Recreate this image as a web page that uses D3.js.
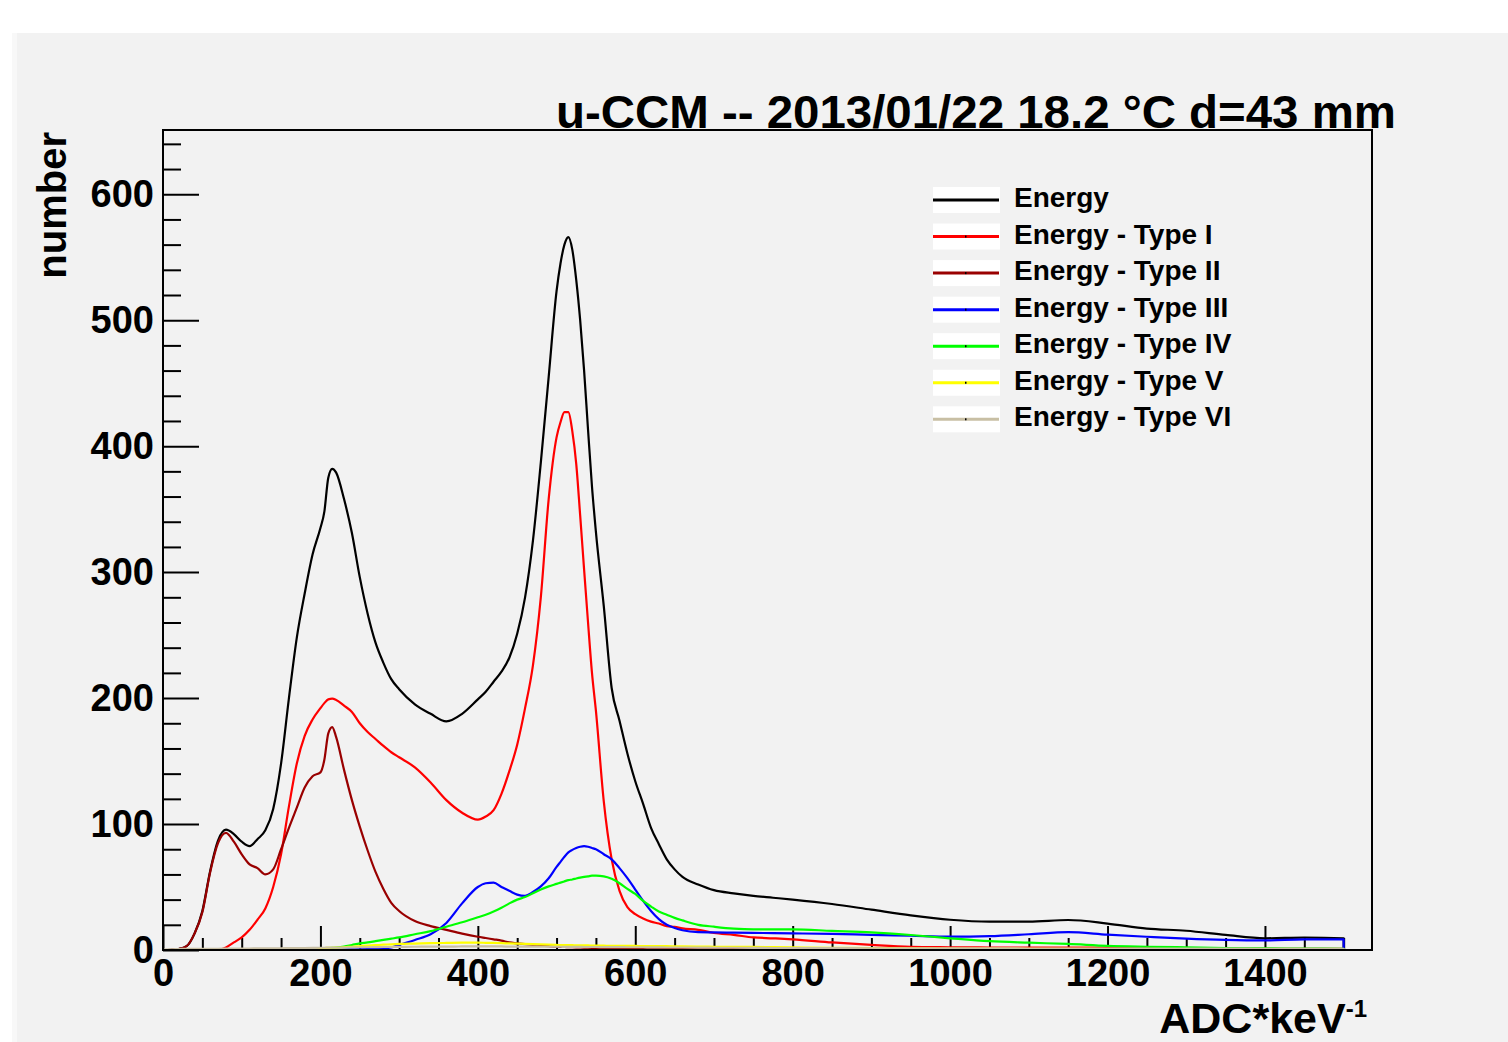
<!DOCTYPE html>
<html>
<head>
<meta charset="utf-8">
<script src="https://cdn.jsdelivr.net/npm/d3@7"></script>
<style>
  body { margin: 0; background: #fff; }
  text { font-family: "Liberation Sans", Arial, Helvetica, sans-serif; font-weight: bold; fill: #000; }
</style>
</head>
<body>
<div id="chart"></div>
<script>
// ADC channel (bin centres)
const adc = [0,10,20,30,40,50,60,70,80,90,
  100,110,120,130,140,150,160,170,180,190,
  200,205,210,215,220,230,240,250,260,270,
  280,290,300,320,340,360,380,400,410,420,
  430,440,450,460,470,480,490,500,505,510,
  515,520,525,530,535,540,545,550,560,570,
  580,590,600,610,620,630,640,650,660,680,
  700,725,750,775,800,850,900,950,1000,1050,
  1100,1150,1200,1250,1300,1350,1400,1450,1500];

const energyAll = [0,0.2,0.8,3,13,31,63,87,95.5,92,
  86,82.5,88,95,112,148,200,248,283,314,
  335,348,375,382,379,358,331,296,267,244,
  228,215,207,195,187.5,181.5,187.5,199,205,213,
  221,232,251,280,325,387,455,523,545,560,
  566,556,532,500,460,413,368,332,273,208,
  182,156,134,116,97,84,72,64,58,52,
  47.5,45,43,41.5,40,36.5,32,27.5,24,22.5,
  22.5,23.8,21,17,15.3,12,9.3,9.8,9.3];

const energyType1 = [0,0,0,0,0,0,0,0,2,6,
  10,16,24,33,50,76,114,148,170,183,
  192,196,199,199.5,198.5,194,189,180,173,167.5,
  162,157,153,145,133,119,109,103.5,106,111,
  124,142,163,192,226,280,358,407,419,427,
  427,412,386,345,302,260,220,190,118,72,
  47,34,28.5,25,22.5,21,19,18.3,17.2,16,
  13.5,12,10,9.3,8.5,6,4,2.5,2.2,2,
  2,2,1.8,1.5,1.3,1.1,1,1,1];

const energyType2 = [0,0.2,0.8,3,13,30,62,85,93,86,
  76,68,65,60,64,80,97,113,129,138,
  141,151,172,177,169,143,119,98,79,62,
  48.5,37.5,31,23,19,16,13,10.5,9.5,8.5,
  7.5,6,5.3,4.6,4,3.5,3,2.6,2.5,2.4,
  2.3,2.2,2.1,2,1.9,1.8,1.7,1.6,1.5,1.4,
  1.3,1.2,1.1,1,1,1,1,1,0.9,0.9,
  0.8,0.8,0.8,0.7,0.7,0.6,0.6,0.5,0.5,0.5,
  0.5,0.4,0.4,0.4,0.3,0.3,0.3,0.3,0.3];

const energyType3 = [0,0,0,0,0,0,0,0,0,0,
  0,0,0,0,0,0,0,0,0,0.1,
  0.2,0.2,0.3,0.3,0.3,0.4,0.5,0.6,0.7,0.9,
  1.2,2,4,8,12.5,21.5,37,50,53,53.5,
  50,47,44,43,46,50.5,57,66,70,74,
  77.5,79.5,81,82,82.5,82,81,80,76,72,
  65,57,48,39,31,24.5,20,17.5,15.7,14.2,
  14,13.8,13.6,13.4,13.2,12.8,12,11.3,10.6,11,
  12.5,14.2,12.2,10.5,9,8,7.6,8.5,8.5];

const energyType4 = [0,0,0,0,0,0,0,0,0,0,
  0,0,0.1,0.2,0.3,0.4,0.5,0.7,0.8,1,
  1.2,1.3,1.5,1.7,2,2.8,4,5.2,6,7,
  8,9,10,12.5,15,18.5,22,26,28,30.5,
  33.5,37,40,42,45,48,50.5,52.5,53.5,54.5,
  55.5,56,56.8,57.5,58,58.5,59,59,58.5,56.5,
  53,48.5,44.5,39,34.5,30.5,28,25.5,23.5,20,
  18.5,17,16.4,16.4,16.4,15.2,14,11.9,9.3,7,
  5.8,4.8,3.3,2.6,2.1,1.5,1.3,1.1,1];

const energyType5 = [0,0,0,0,0,0,0,0,0,0,
  0,0.1,0.2,0.3,0.4,0.5,0.7,0.9,1.1,1.3,
  1.5,1.6,1.7,1.8,1.9,2.2,2.6,3,3.4,3.8,
  4.2,4.5,4.8,5.1,5.4,5.6,5.8,5.8,5.7,5.6,
  5.4,5.2,5,4.8,4.6,4.4,4.2,4,3.9,3.9,
  3.8,3.8,3.7,3.7,3.6,3.6,3.5,3.5,3.4,3.3,
  3.3,3.2,3.2,3.1,3.1,3,3,2.9,2.8,2.7,
  2.6,2.6,2.5,2.3,2.1,1.8,1.6,1.4,1.2,1.1,
  1,0.9,0.8,0.8,0.7,0.7,0.6,0.6,0.6];

const energyType6 = [0.3,0.6,0.8,1,1,1,1,1,1.1,1.1,
  1.2,1.2,1.3,1.3,1.4,1.4,1.5,1.5,1.6,1.7,
  1.8,1.8,1.9,1.9,1.9,2,2.1,2.2,2.2,2.3,
  2.4,2.4,2.5,2.6,2.7,2.7,2.8,2.8,2.8,2.8,
  2.8,2.7,2.7,2.7,2.7,2.6,2.6,2.6,2.6,2.5,
  2.5,2.5,2.5,2.5,2.4,2.4,2.4,2.4,2.3,2.3,
  2.3,2.2,2.2,2.2,2.1,2.1,2,2,2,1.9,
  1.8,1.8,1.7,1.6,1.5,1.5,1.4,1.4,1.3,1.3,
  1.2,1.2,1.2,1.1,1.1,1.1,1,1,1];

const seriesNames = ["Energy", "Energy - Type I", "Energy - Type II", "Energy - Type III",
  "Energy - Type IV", "Energy - Type V", "Energy - Type VI"];
const seriesColors = ["#000000", "#ff0000", "#990000", "#0000ff", "#00ff00", "#ffff00", "#c8bfa4"];
const seriesValues = [energyAll, energyType1, energyType2, energyType3, energyType4, energyType5, energyType6];

const xTicks = d3.range(0, 1401, 200);
const yTicks = d3.range(0, 601, 100);

const width = 1508, height = 1042;
const frame = {left: 163, top: 130, right: 1372, bottom: 950};

const svg = d3.select("#chart")
  .append("svg")
  .attr("width", width)
  .attr("height", height);

// canvas pad
svg.append("rect").attr("x", 12).attr("y", 33).attr("width", 6).attr("height", height - 33).attr("fill", "#f8f8f8");
svg.append("rect").attr("x", 17).attr("y", 33).attr("width", width - 17).attr("height", height - 33).attr("fill", "#f2f2f2");

const x = d3.scaleLinear().domain([0, 1536]).range([frame.left, frame.right]);
const y = d3.scaleLinear().domain([0, 651]).range([frame.bottom, frame.top]);

// y ticks (inside the frame)
svg.append("g")
  .attr("transform", "translate(" + frame.left + ",0)")
  .call(d3.axisRight(y).tickValues(d3.range(0, 641, 20).filter(v => v % 100 !== 0)).tickSize(18).tickFormat(""))
  .call(g => g.select(".domain").remove())
  .selectAll("line").attr("stroke", "#000").attr("stroke-width", 2);
svg.append("g")
  .attr("transform", "translate(" + frame.left + ",0)")
  .call(d3.axisRight(y).tickValues(yTicks).tickSize(36).tickFormat(""))
  .call(g => g.select(".domain").remove())
  .selectAll("line").attr("stroke", "#000").attr("stroke-width", 2);

// y labels
svg.append("g")
  .attr("transform", "translate(" + frame.left + ",0)")
  .call(d3.axisLeft(y).tickValues(yTicks).tickSize(0).tickPadding(9).tickFormat(d3.format("d")))
  .call(g => g.select(".domain").remove())
  .selectAll("text").style("font-size", "38px").style("font-family", "'Liberation Sans', Arial, sans-serif").style("font-weight", "bold");

// x ticks (pointing up)
svg.append("g")
  .attr("transform", "translate(0," + frame.bottom + ")")
  .call(d3.axisTop(x).tickValues(d3.range(0, 1501, 50).filter(v => v % 200 !== 0)).tickSize(12).tickFormat(""))
  .call(g => g.select(".domain").remove())
  .selectAll("line").attr("stroke", "#000").attr("stroke-width", 2);
svg.append("g")
  .attr("transform", "translate(0," + frame.bottom + ")")
  .call(d3.axisTop(x).tickValues(xTicks).tickSize(24).tickFormat(""))
  .call(g => g.select(".domain").remove())
  .selectAll("line").attr("stroke", "#000").attr("stroke-width", 2);

// x labels
svg.append("g")
  .attr("transform", "translate(0," + frame.bottom + ")")
  .call(d3.axisBottom(x).tickValues(xTicks).tickSize(0).tickPadding(9).tickFormat(d3.format("d")))
  .call(g => g.select(".domain").remove())
  .selectAll("text").style("font-size", "38px").style("font-family", "'Liberation Sans', Arial, sans-serif").style("font-weight", "bold");

// histograms
const line = d3.line()
  .x(d => x(d[0]))
  .y(d => y(d[1]))
  .curve(d3.curveMonotoneX);

seriesValues.forEach((vals, i) => {
  const pts = adc.map((a, k) => [a, vals[k]]);
  pts.push([adc[adc.length - 1], 0]);
  svg.append("path")
    .datum(pts)
    .attr("fill", "none")
    .attr("stroke", seriesColors[i])
    .attr("stroke-width", 2.2)
    .attr("stroke-linejoin", "round")
    .attr("d", line);
});

// frame
svg.append("rect")
  .attr("x", frame.left).attr("y", frame.top)
  .attr("width", frame.right - frame.left).attr("height", frame.bottom - frame.top)
  .attr("fill", "none").attr("stroke", "#000").attr("stroke-width", 2);

// title
svg.append("text")
  .attr("x", 556).attr("y", 128)
  .attr("textLength", 840).attr("lengthAdjust", "spacingAndGlyphs")
  .style("font-size", "46px")
  .text("u-CCM -- 2013/01/22 18.2 °C d=43 mm");

// axis titles
svg.append("text")
  .attr("transform", "translate(66,132) rotate(-90)")
  .attr("text-anchor", "end")
  .style("font-size", "40px")
  .text("number");

const xt = svg.append("text")
  .attr("x", 1367).attr("y", 1033)
  .attr("text-anchor", "end")
  .style("font-size", "43px");
xt.append("tspan").text("ADC*keV");
xt.append("tspan").attr("dy", -16).style("font-size", "24px").text("-1");

// legend
const legend = svg.append("g");
seriesNames.forEach((name, i) => {
  const ly = 200 + i * 36.55;
  legend.append("rect").attr("x", 933).attr("y", ly - 13).attr("width", 67).attr("height", 26).attr("fill", "#fff");
  legend.append("line").attr("x1", 933).attr("x2", 999).attr("y1", ly).attr("y2", ly)
    .attr("stroke", seriesColors[i]).attr("stroke-width", 3);
  if (i > 0) legend.append("rect").attr("x", 965).attr("y", ly - 1).attr("width", 1.5).attr("height", 2).attr("fill", "#000");
  legend.append("text").attr("x", 1014).attr("y", ly + 7).style("font-size", "28px").text(name);
});
</script>
</body>
</html>
